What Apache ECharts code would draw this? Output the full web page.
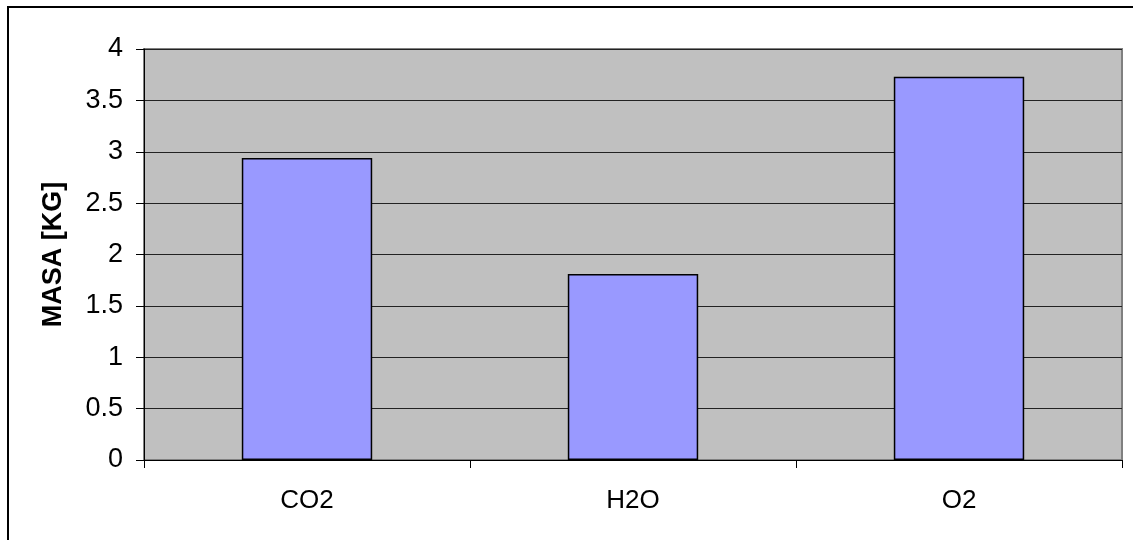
<!DOCTYPE html>
<html>
<head>
<meta charset="utf-8">
<script src="https://cdn.jsdelivr.net/npm/echarts@6/dist/echarts.min.js"></script>
<style>
  html, body { margin: 0; padding: 0; background: #fff; }
  #chart { width: 1133px; height: 540px; }
</style>
</head>
<body>
<div id="chart"></div>
<script>
// Gas masses in kilograms
const categories = ['CO2', 'H2O', 'O2'];
const masses = [2.94, 1.81, 3.73];
const yTicks = { min: 0, max: 4, interval: 0.5 };
const yTitle = 'MASA [KG]';

const FONT = '"Liberation Sans", Arial, sans-serif';

const chart = echarts.init(document.getElementById('chart'));
chart.setOption({
  animation: false,
  backgroundColor: '#ffffff',
  graphic: [
    {
      type: 'rect',
      shape: { x: 8, y: 7, width: 1200, height: 600 },
      style: { fill: 'none', stroke: '#000', lineWidth: 2 },
      z: 100
    },
    {
      type: 'rect',
      shape: { x: 144, y: 49, width: 978, height: 411 },
      style: { fill: 'none', stroke: '#808080', lineWidth: 2 },
      z: 0
    }
  ],
  grid: {
    left: 144, right: 11, top: 49, bottom: 80,
    show: true, backgroundColor: '#c0c0c0', borderWidth: 0
  },
  xAxis: {
    type: 'category',
    data: categories,
    axisLine: { lineStyle: { color: '#000', width: 1 } },
    axisTick: { show: true, length: 8, alignWithLabel: false, lineStyle: { color: '#000' } },
    axisLabel: { color: '#000', fontSize: 26, fontFamily: FONT, margin: 28 },
    splitLine: { show: false }
  },
  yAxis: {
    type: 'value',
    min: yTicks.min, max: yTicks.max, interval: yTicks.interval,
    name: yTitle,
    nameLocation: 'middle',
    nameGap: 77,
    nameTextStyle: { color: '#000', fontSize: 27, fontWeight: 'bold', fontFamily: FONT },
    axisLine: { show: true, lineStyle: { color: '#000', width: 1 } },
    axisTick: { show: true, length: 8, lineStyle: { color: '#000' } },
    axisLabel: { color: '#000', fontSize: 27, fontFamily: FONT, margin: 21 },
    splitLine: { show: true, lineStyle: { color: '#222', width: 1 } }
  },
  series: [{
    type: 'bar',
    data: masses,
    barWidth: '40%',
    itemStyle: { color: '#9999ff', borderColor: '#000', borderWidth: 1.5 },
    z: 3
  }]
});
</script>
</body>
</html>
